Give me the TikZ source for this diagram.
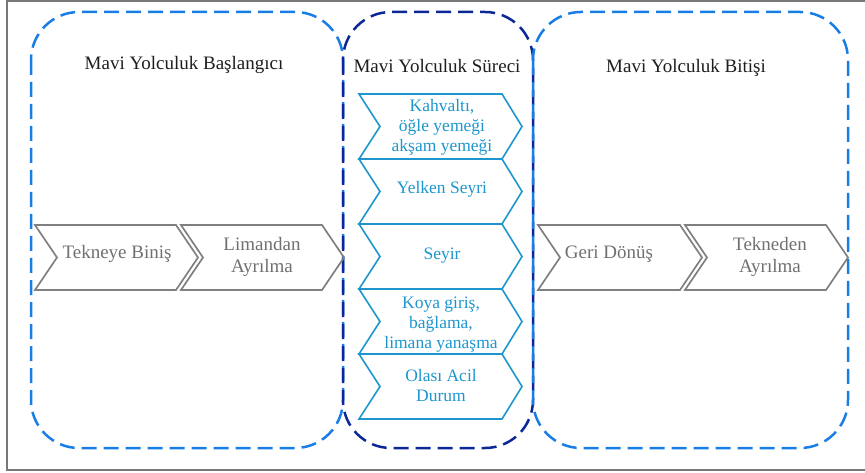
\documentclass[tikz,border=0pt]{standalone}
\usepackage{fontspec}
\setmainfont{Liberation Serif}
\definecolor{brightblue}{RGB}{25,125,230}
\definecolor{navyblue}{RGB}{12,40,150}
\definecolor{chevcyan}{RGB}{30,150,205}
\definecolor{chevgray}{RGB}{128,128,128}
\definecolor{graytext}{RGB}{112,112,112}
\definecolor{framegray}{RGB}{120,120,120}
\definecolor{titletext}{RGB}{30,30,30}
\tikzset{
  phasebox/.style={dash pattern=on 15pt off 7pt, line width=2.5pt, rounded corners=48pt},
  graychev/.style={draw=chevgray, line width=1.7pt, line join=miter},
  cyanchev/.style={draw=chevcyan, line width=1.6pt, line join=miter},
  titlelabel/.style={font=\fontsize{19}{22}\selectfont, text=titletext, inner sep=0pt, anchor=base},
  graylabel/.style={font=\fontsize{19}{22}\selectfont, text=graytext, inner sep=0pt, align=center},
  cyanlabel/.style={font=\fontsize{17.5}{20}\selectfont, text=chevcyan, inner sep=0pt, align=center}
}
\begin{document}
\begin{tikzpicture}[x=1pt,y=-1pt]
\useasboundingbox (0,0) rectangle (865,473);
\draw[framegray, line width=1.2pt] (7,1) rectangle (875,470);

% phase boxes
\draw[phasebox, brightblue] (31,12) rectangle (343,448);
\draw[phasebox, navyblue] (343,12) rectangle (533,448);
\draw[phasebox, brightblue] (533,12) rectangle (848,448);

% titles
\node[titlelabel] (t1) at (184,70) {Mavi Yolculuk Başlangıcı};
\node[titlelabel] (t2) at (437,73) {Mavi Yolculuk Süreci};
\node[titlelabel] (t3) at (686,73) {Mavi Yolculuk Bitişi};

% gray chevrons
\foreach \xl/\xr in {35/176, 181/322, 538/680, 685/826}{
  \draw[graychev] (\xl,225) -- (\xr,225) -- (\xr+22,257.5) -- (\xr,290) -- (\xl,290) -- (\xl+22,257.5) -- cycle;
}
\node[graylabel] (g1) at (117,254) {Tekneye Biniş};
\node[graylabel] (g2) at (262,257) {Limandan\\Ayrılma};
\node[graylabel] (g3) at (609,254) {Geri Dönüş};
\node[graylabel] (g4) at (770,257) {Tekneden\\Ayrılma};

% cyan chevrons
\foreach \yt/\yb in {94/159, 159/224, 224/289, 289/354, 354/419}{
  \draw[cyanchev] (359,\yt) -- (502,\yt) -- (522,{(\yt+\yb)/2}) -- (502,\yb) -- (359,\yb) -- (380,{(\yt+\yb)/2}) -- cycle;
}
\node[cyanlabel] (c1) at (442,127) {Kahvaltı,\\öğle yemeği\\akşam yemeği};
\node[cyanlabel] (c2) at (442,189) {Yelken Seyri};
\node[cyanlabel] (c3) at (442,256) {Seyir};
\node[cyanlabel] (c4) at (441,325) {Koya giriş,\\bağlama,\\limana yanaşma};
\node[cyanlabel] (c5) at (441,386) {Olası Acil\\Durum};
\end{tikzpicture}
\end{document}
